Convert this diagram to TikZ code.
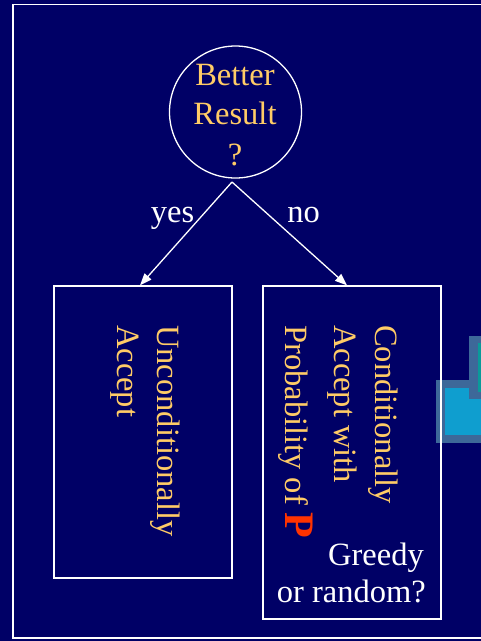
\documentclass[tikz,border=0pt]{standalone}
\usepackage{fontspec}
\setmainfont{Liberation Serif}
\usetikzlibrary{arrows.meta}
\definecolor{slidebg}{RGB}{0,0,102}
\definecolor{gold}{RGB}{255,204,102}
\definecolor{pred}{RGB}{255,51,0}
\definecolor{tileedge}{RGB}{61,104,153}
\definecolor{tilecyan}{RGB}{15,158,207}
\definecolor{tileteal}{RGB}{10,154,154}
\begin{document}
\begin{tikzpicture}[x=1pt,y=-1pt,
  txt/.style={font=\fontsize{32.5}{40}\selectfont, text=gold, inner sep=0pt},
  vtxt/.style={txt, rotate=-90, anchor=base west},
  wtxt/.style={font=\fontsize{32.5}{40}\selectfont, text=white, inner sep=0pt},
  frame/.style={draw=white, line width=1.2pt},
  stepbox/.style={draw=white, line width=1.3pt, rectangle, inner sep=0pt},
  link/.style={draw=white, line width=1.3pt, -{Triangle[length=12pt,width=9pt]}}]
  % slide background and frame
  \useasboundingbox (0,0) rectangle (481,641);
  \clip (0,0) rectangle (481,641);
  \fill[slidebg] (0,0) rectangle (481,641);
  \draw[frame] (495,4.5) -- (13,4.5) -- (13,638) -- (495,638);

  % corner tiles at the right edge
  \fill[tileedge] (436,380) rectangle (495,443);
  \fill[tilecyan] (445,388) rectangle (495,435);
  \fill[tileedge] (469,336) rectangle (495,399);
  \fill[tileteal] (478,343) rectangle (495,392);

  % decision
  \node[draw=white, line width=1.3pt, circle, minimum size=132pt, inner sep=0pt] (q) at (235.5,112) {};
  \node[txt, anchor=base] (q1) at (235,85) {Better};
  \node[txt, anchor=base] (q2) at (235,124) {Result};
  \node[txt, anchor=base] (q3) at (235,165) {?};

  % outcome boxes
  \node[stepbox, minimum width=178pt, minimum height=292pt] (lbox) at (143,432) {};
  \node[stepbox, minimum width=178pt, minimum height=333pt] (rbox) at (352,452.5) {};

  % branches
  \coordinate (fork) at (232,182);
  \draw[link] (fork) -- ([xshift=-3pt]lbox.north);
  \draw[link] (fork) -- ([xshift=-5pt]rbox.north);
  \node[wtxt, anchor=base] (yes) at (172.5,222) {yes};
  \node[wtxt, anchor=base] (no) at (303.5,222) {no};

  % left box text
  \node[vtxt] (l1) at (157,325) {Unconditionally};
  \node[vtxt] (l2) at (117,325) {Accept};

  % right box text
  \node[vtxt] (r1) at (375,325) {Conditionally};
  \node[vtxt] (r2) at (334,325) {Accept with};
  \node[vtxt] (r3) at (285,325) {Probability of {\fontsize{42}{48}\selectfont\bfseries\color{pred}P}};
  \node[wtxt, anchor=base east] (g1) at (424,565) {Greedy};
  \node[wtxt, anchor=base east] (g2) at (426,602) {or random?};
\end{tikzpicture}
\end{document}
